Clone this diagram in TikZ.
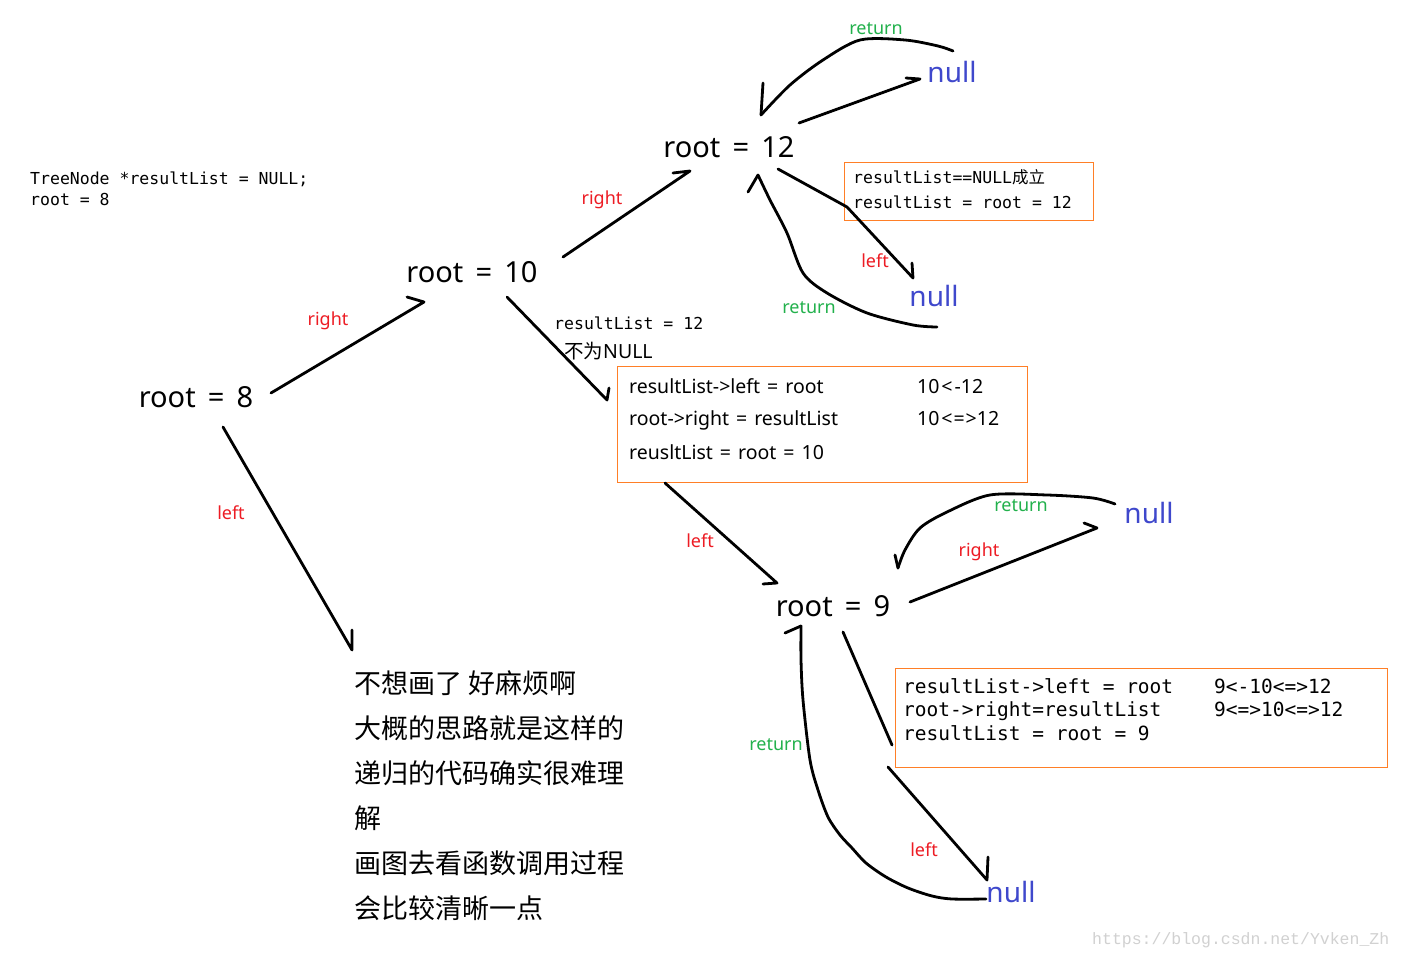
\documentclass[tikz,border=0pt]{standalone}
\usepackage{fontspec}
\setmainfont{Noto Sans}
\newfontfamily\cjk{Noto Sans CJK SC}
\newfontfamily\codefont{DejaVu Sans Mono}
\newfontfamily\wmfont{Liberation Mono}
\definecolor{lblred}{HTML}{ED1C24}
\definecolor{lblgreen}{HTML}{22B14C}
\definecolor{nullblue}{HTML}{3F48CC}
\definecolor{boxorange}{HTML}{FF7F27}
\newcommand\myrsp{\hspace{0.42em}}
\newcommand\mybsp{\hspace{0.36em}}
\tikzset{
  rootlbl/.style={anchor=base,inner sep=0pt,font=\fontsize{29}{29}\selectfont},
  nulllbl/.style={anchor=base,inner sep=0pt,text=nullblue,font=\fontsize{28}{28}\selectfont},
  redlbl/.style={anchor=base,inner sep=0pt,text=lblred,font=\fontsize{18}{18}\selectfont},
  greenlbl/.style={anchor=base,inner sep=0pt,text=lblgreen,font=\fontsize{18}{18}\selectfont},
  codetxt/.style={anchor=base west,inner sep=0pt,font=\codefont\fontsize{16.5}{16.5}\selectfont},
  codebig/.style={anchor=base west,inner sep=0pt,font=\codefont\fontsize{19.5}{19.5}\selectfont},
  sanstxt/.style={anchor=base west,inner sep=0pt,font=\fontsize{19.5}{19.5}\selectfont},
  cjktxt/.style={anchor=west,inner sep=0pt,font=\cjk\fontsize{27}{27}\selectfont},
  stroke/.style={line width=2.8pt,line cap=round,line join=round,black},
  notebox/.style={draw=boxorange,line width=1pt}
}
\begin{document}
\begin{tikzpicture}[x=1pt,y=-1pt]
\useasboundingbox (0,0) rectangle (1402,957);
\fill[white] (0,0) rectangle (1402,957);

% tree nodes
\node[rootlbl] (r12) at (729,158) {root\myrsp=\myrsp12};
\node[rootlbl] (r10) at (472,283) {root\myrsp=\myrsp10};
\node[rootlbl] (r8)  at (196,407) {root\myrsp=\myrsp8};
\node[rootlbl] (r9)  at (833,616) {root\myrsp=\myrsp9};
\node[nulllbl] (n1) at (952,83) {null};
\node[nulllbl] (n2) at (934,307) {null};
\node[nulllbl] (n3) at (1149,523) {null};
\node[nulllbl] (n4) at (1011,902) {null};

% code at top left
\node[codetxt] (c1) at (30,185) {TreeNode *resultList = NULL;};
\node[codetxt] (c2) at (30,206) {root = 8};

% box 1
\draw[notebox] (844,163) rectangle (1093,221);
\node[codetxt] (b1a) at (853,184) {resultList==NULL{\cjk 成立}};
\node[codetxt] (b1b) at (853,209) {resultList = root = 12};

% annotation near root 10
\node[codetxt] (a1) at (554,330) {resultList = 12};
\node[sanstxt] (a2) at (564,359) {{\cjk 不为}NULL};

% box 2
\draw[notebox] (617,366) rectangle (1027,482);
\node[sanstxt] (b2a) at (629,393) {resultList->left\mybsp=\mybsp root};
\node[sanstxt] (b2b) at (629,425) {root->right\mybsp=\mybsp resultList};
\node[sanstxt] (b2c) at (629,459) {reusltList\mybsp=\mybsp root\mybsp=\mybsp10};
\node[sanstxt] (b2d) at (917,393) {10\hspace{0.1em}<\hspace{0.1em}-12};
\node[sanstxt] (b2e) at (917,425) {10\hspace{0.1em}<\hspace{0.05em}=\hspace{0.05em}>12};

% box 3
\draw[notebox] (895,668) rectangle (1387,767);
\node[codebig] (b3a) at (903,693) {resultList->left = root};
\node[codebig] (b3b) at (903,716) {root->right=resultList};
\node[codebig] (b3c) at (903,740) {resultList = root = 9};
\node[codebig] (b3d) at (1214,693) {9<-10<=>12};
\node[codebig] (b3e) at (1214,716) {9<=>10<=>12};

% chinese paragraph
\node[cjktxt] (p1) at (354,683) {不想画了 好麻烦啊};
\node[cjktxt] (p2) at (354,728) {大概的思路就是这样的};
\node[cjktxt] (p3) at (354,773) {递归的代码确实很难理};
\node[cjktxt] (p4) at (354,818) {解};
\node[cjktxt] (p5) at (354,863) {画图去看函数调用过程};
\node[cjktxt] (p6) at (354,908) {会比较清晰一点};

% watermark
\node[anchor=base west,inner sep=0pt,text=black!18,font=\wmfont\fontsize{16.5}{16.5}\selectfont] (wm) at (1092,944) {https://blog.csdn.net/Yvken\_Zh};

% edge labels
\node[greenlbl] (l1) at (876,35) {return};
\node[redlbl] (l2) at (602,205) {right};
\node[redlbl] (l3) at (875,268) {left};
\node[greenlbl] (l4) at (809,314) {return};
\node[redlbl] (l5) at (328,326) {right};
\node[redlbl] (l6) at (231,519) {left};
\node[redlbl] (l7) at (700,547) {left};
\node[greenlbl] (l8) at (1021,511) {return};
\node[redlbl] (l9) at (979,556) {right};
\node[greenlbl] (l10) at (776,750) {return};
\node[redlbl] (l11) at (924,856) {left};

% connector coordinates
\coordinate (e1s) at (271,393); \coordinate (e1e) at (424,302); \coordinate (e1b) at (407,297);
\coordinate (e2s) at (563,257); \coordinate (e2e) at (690,171); \coordinate (e2b) at (673,173);
\coordinate (e3s) at (799,123); \coordinate (e3e) at (920,79);  \coordinate (e3b) at (906,78);
\coordinate (e4s) at (953,51);  \coordinate (e4e) at (761,115); \coordinate (e4b) at (763,83);
\coordinate (e5s) at (778,169); \coordinate (e5e) at (913,278); \coordinate (e5b) at (912,263);
\coordinate (e6s) at (937,327); \coordinate (e6e) at (758,175); \coordinate (e6b) at (748,192);
\coordinate (e7s) at (507,297); \coordinate (e7e) at (607,400); \coordinate (e7b) at (609,388);
\coordinate (e8s) at (223,427); \coordinate (e8e) at (352,650); \coordinate (e8b) at (352,630);
\coordinate (e9s) at (665,483); \coordinate (e9e) at (777,583); \coordinate (e9b) at (763,584);
\coordinate (e10s) at (910,602); \coordinate (e10e) at (1097,528); \coordinate (e10b) at (1084,523);
\coordinate (e11s) at (1115,504); \coordinate (e11e) at (898,568); \coordinate (e11b) at (895,555);
\coordinate (e12s) at (843,632); \coordinate (e12m) at (892,745);
\coordinate (e12n) at (888,767); \coordinate (e12e) at (987,880); \coordinate (e12b) at (988,857);
\coordinate (e13s) at (986,899); \coordinate (e13e) at (801,626); \coordinate (e13b) at (785,633);

% connectors
\draw[stroke] (e1s) -- (e1e) -- (e1b);
\draw[stroke] (e2s) -- (e2e) -- (e2b);
\draw[stroke] (e3s) -- (e3e) -- (e3b);
\draw[stroke] plot[smooth] coordinates {(e4s) (938,46) (905,40) (860,40) (823,60) (790,85) (e4e)};
\draw[stroke] (e4b) -- (e4e);
\draw[stroke] (e5s) -- (847,207) -- (e5e) -- (e5b);
\draw[stroke] plot[smooth] coordinates {(e6s) (913,325) (867,313) (827,293) (803,273) (787,233) (770,200) (e6e)};
\draw[stroke] (e6b) -- (e6e);
\draw[stroke] (e7s) -- (e7e) -- (e7b);
\draw[stroke] (e8s) -- (e8e) -- (e8b);
\draw[stroke] (e9s) -- (e9e) -- (e9b);
\draw[stroke] (e10s) -- (e10e) -- (e10b);
\draw[stroke] plot[smooth] coordinates {(e11s) (1093,498) (1047,495) (990,495) (947,512) (920,528) (905,550) (e11e)};
\draw[stroke] (e11b) -- (e11e);
\draw[stroke] (e12s) -- (e12m);
\draw[stroke] (e12n) -- (e12e) -- (e12b);
\draw[stroke] plot[smooth] coordinates {(e13s) (952,899) (932,896) (908,888) (886,877) (866,863) (852,848) (840,835) (828,817) (818,790) (810,760) (803,700) (801,660) (e13e)};
\draw[stroke] (e13b) -- (e13e);
\end{tikzpicture}
\end{document}
